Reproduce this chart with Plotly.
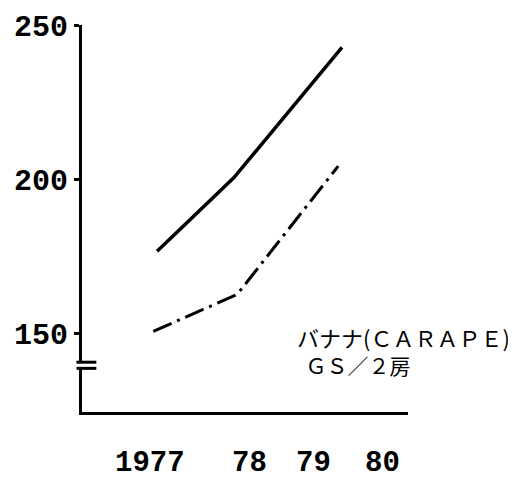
import plotly.graph_objects as go

# Data
solid_x = [1976.95, 1977.95, 1979.37]
solid_vals = [176.7, 200.5, 243.0]
dashdot_x = [1976.9, 1978.0, 1979.32]
dashdot_vals = [150.6, 162.7, 204.4]
y_tick_vals = [150, 200, 250]
x_label_years = [1977, 1978, 1979, 1980]
x_label_text = ["1977", "78", "79", "80"]
legend_lines = ["バナナ(ＣＡＲＡＰＥ)", "ＧＳ／２房"]

MONO = "Liberation Mono, DejaVu Sans Mono, monospace"
CJK = "Noto Sans CJK JP, Noto Sans CJK SC, sans-serif"

fig = go.Figure()
fig.add_trace(go.Scatter(x=solid_x, y=solid_vals, mode="lines",
                         line=dict(color="black", width=3.5), showlegend=False,
                         hoverinfo="skip"))
fig.add_trace(go.Scatter(x=dashdot_x, y=dashdot_vals, mode="lines",
                         line=dict(color="black", width=3, dash="20px,6px,3px,6px"),
                         showlegend=False, hoverinfo="skip"))

fig.update_layout(
    width=516, height=477,
    margin=dict(l=74, r=116, t=17, b=73, autoexpand=False),
    paper_bgcolor="white", plot_bgcolor="white",
    xaxis=dict(range=[1975.967, 1980.234], showgrid=False, zeroline=False,
               showline=True, linecolor="black", linewidth=3, automargin=False,
               showticklabels=False, ticks=""),
    yaxis=dict(range=[124.4, 250.3], showgrid=False, zeroline=False,
               showline=True, linecolor="black", linewidth=3, automargin=False,
               tickvals=y_tick_vals, ticks="outside", ticklen=5, tickwidth=3,
               tickcolor="black",
               tickfont=dict(family=MONO, size=30, color="black", weight="bold")),
)

# axis break
fig.add_shape(type="rect", xref="paper", yref="y", x0=-0.03, x1=0.03, y0=138.6, y1=140.6,
              fillcolor="white", line=dict(width=0), layer="above")
for yb in (138.6, 140.6):
    fig.add_shape(type="line", xref="paper", yref="y", x0=-0.017, x1=0.044, y0=yb, y1=yb,
                  line=dict(color="black", width=3), layer="above")

# x labels
shifts = [-11, 12, 0, -8]
for yr, txt, sh in zip(x_label_years, x_label_text, shifts):
    fig.add_annotation(x=yr, y=-0.134, xref="x", yref="paper", text=txt,
                       showarrow=False, xshift=sh, xanchor="center", yanchor="middle",
                       font=dict(family=MONO, size=29, color="black", weight="bold"))

# label text (two lines, second slightly indented)
fig.add_annotation(x=0.652, y=0.1602, xref="paper", yref="paper",
                   text='<span style="font-size:22px">' + legend_lines[0] + "</span>"
                        + "<br>\u2009\u2009" + legend_lines[1],
                   showarrow=False, xanchor="left", yanchor="middle", align="left",
                   font=dict(family=CJK, size=21, color="black"))

fig.write_html("out.html")
